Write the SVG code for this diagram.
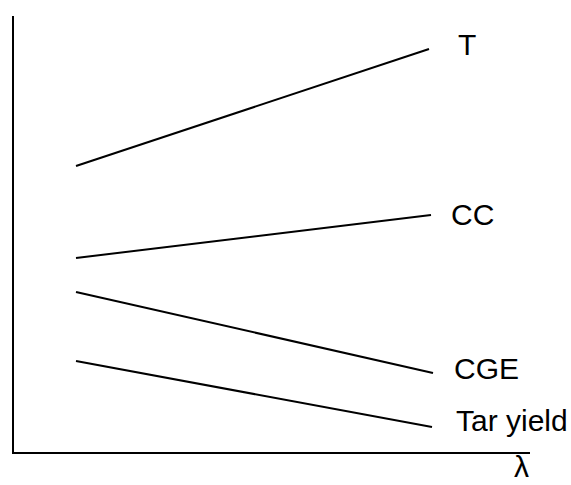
<svg xmlns="http://www.w3.org/2000/svg" width="571" height="485" viewBox="0 0 571 485">
<style>
.ax{stroke:#000;stroke-width:2;fill:none}
.ln{stroke:#000;stroke-width:2;fill:none}
.lb{font-family:"Liberation Sans",Arial,sans-serif;font-size:30px;fill:#000}
</style>
<rect width="571" height="485" fill="#fff"/>
<g id="axes">
<line class="ax" x1="13" y1="16" x2="13" y2="454"/>
<line class="ax" x1="12" y1="453" x2="530" y2="453"/>
</g>
<g id="connectors">
<line class="ln" x1="76" y1="166" x2="429" y2="49"/>
<line class="ln" x1="76" y1="258" x2="431" y2="215"/>
<line class="ln" x1="76" y1="292" x2="433" y2="373"/>
<line class="ln" x1="76" y1="361" x2="432" y2="427"/>
</g>
<g id="T"><text class="lb" x="458" y="55">T</text></g>
<g id="CC"><text class="lb" x="451" y="225">CC</text></g>
<g id="CGE"><text class="lb" x="454" y="379">CGE</text></g>
<g id="Tar"><text class="lb" x="456" y="431">Tar yield</text></g>
<g id="lambda"><text class="lb" x="514" y="477">λ</text></g>
</svg>
